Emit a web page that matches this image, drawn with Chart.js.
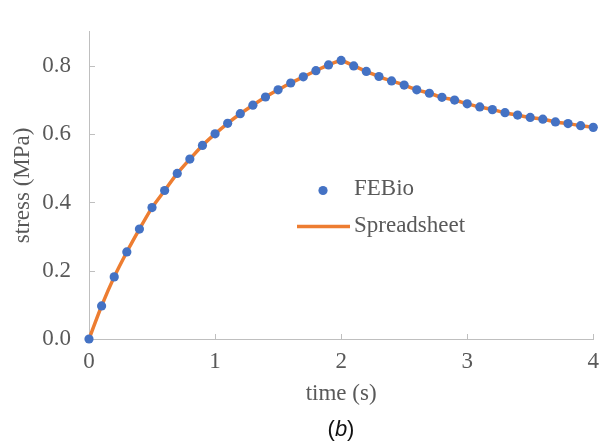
<!DOCTYPE html>
<html>
<head>
<meta charset="utf-8">
<script src="https://cdn.jsdelivr.net/npm/chart.js@4/dist/chart.umd.min.js"></script>
<style>
  html, body { margin: 0; padding: 0; background: #fff; }
  #wrap { width: 608px; height: 446px; position: relative; }
</style>
</head>
<body>
<div id="wrap"><canvas id="stressChart"></canvas></div>
<script>
// time points (s)
const timeS = [0, 0.1, 0.2, 0.3, 0.4, 0.5, 0.6, 0.7, 0.8, 0.9,
               1, 1.1, 1.2, 1.3, 1.4, 1.5, 1.6, 1.7, 1.8, 1.9,
               2, 2.1, 2.2, 2.3, 2.4, 2.5, 2.6, 2.7, 2.8, 2.9,
               3, 3.1, 3.2, 3.3, 3.4, 3.5, 3.6, 3.7, 3.8, 3.9, 4];

// stress (MPa) from FEBio
const febioStress = [0, 0.097, 0.182, 0.255, 0.322, 0.385, 0.435, 0.485, 0.527, 0.567,
                     0.601, 0.632, 0.660, 0.685, 0.709, 0.730, 0.750, 0.768, 0.786, 0.803,
                     0.816, 0.800, 0.784, 0.769, 0.756, 0.744, 0.730, 0.720, 0.708, 0.700,
                     0.689, 0.680, 0.672, 0.663, 0.656, 0.649, 0.644, 0.636, 0.631, 0.625, 0.620];

// stress (MPa) from spreadsheet
const sheetStress = [0, 0.097, 0.182, 0.255, 0.322, 0.385, 0.435, 0.485, 0.527, 0.567,
                     0.601, 0.632, 0.660, 0.685, 0.709, 0.730, 0.750, 0.768, 0.786, 0.803,
                     0.816, 0.800, 0.784, 0.769, 0.756, 0.744, 0.730, 0.720, 0.708, 0.700,
                     0.689, 0.680, 0.672, 0.663, 0.656, 0.649, 0.644, 0.636, 0.631, 0.625, 0.620];

const xTicks = [0, 1, 2, 3, 4];
const yTicks = [0, 0.2, 0.4, 0.6, 0.8];

const BLUE = '#4472C4';
const ORANGE = '#ED7D31';
const AXIS = '#BFBFBF';
const TEXT = '#595959';
const SERIF = "'Liberation Serif', 'Times New Roman', serif";
const FS = 23;
const DOT = 4.6;

function toXY(xs, ys) {
    return xs.map((x, i) => ({ x: x, y: ys[i] }));
}

// inward tick marks like the Excel original
const innerTicks = {
    id: 'innerTicks',
    beforeDatasetsDraw(chart) {
        const ctx = chart.ctx;
        const xs = chart.scales.x, ys = chart.scales.y;
        const area = chart.chartArea;
        ctx.save();
        ctx.strokeStyle = AXIS;
        ctx.lineWidth = 1;
        ctx.beginPath();
        yTicks.forEach(v => {
            const py = Math.round(ys.getPixelForValue(v)) + 0.5;
            ctx.moveTo(area.left, py);
            ctx.lineTo(area.left + 6, py);
        });
        xTicks.forEach(v => {
            const px = Math.round(xs.getPixelForValue(v)) + 0.5;
            ctx.moveTo(px, area.bottom);
            ctx.lineTo(px, area.bottom - 5);
        });
        ctx.stroke();
        ctx.restore();
    }
};

// legend inside the plot, plus the "(b)" caption
const insideLegend = {
    id: 'insideLegend',
    afterDraw(chart) {
        const ctx = chart.ctx;
        const ds = chart.data.datasets;
        ctx.save();
        ctx.font = FS + 'px ' + SERIF;
        ctx.fillStyle = TEXT;
        ctx.textBaseline = 'middle';
        ctx.textAlign = 'left';

        // FEBio marker
        ctx.beginPath();
        ctx.arc(323, 190.5, DOT, 0, Math.PI * 2);
        ctx.fillStyle = BLUE;
        ctx.fill();
        ctx.fillStyle = TEXT;
        ctx.fillText(ds[0].label, 354, 189);

        // Spreadsheet line
        ctx.strokeStyle = ORANGE;
        ctx.lineWidth = 3.5;
        ctx.beginPath();
        ctx.moveTo(297, 226.5);
        ctx.lineTo(350, 226.5);
        ctx.stroke();
        ctx.fillText(ds[1].label, 354, 226);

        // caption (b)
        const up = "22px 'Liberation Sans', Arial, sans-serif";
        const it = "italic 22px 'Liberation Sans', Arial, sans-serif";
        ctx.fillStyle = '#111';
        ctx.font = up;
        const wa = ctx.measureText('(').width;
        const wc = ctx.measureText(')').width;
        ctx.font = it;
        const wb = ctx.measureText('b').width;
        const x0 = 341 - (wa + wb + wc) / 2;
        ctx.font = up;
        ctx.fillText('(', x0, 430);
        ctx.font = it;
        ctx.fillText('b', x0 + wa, 430);
        ctx.font = up;
        ctx.fillText(')', x0 + wa + wb, 430);
        ctx.restore();
    }
};

const ctx = document.getElementById('stressChart').getContext('2d');
new Chart(ctx, {
    type: 'scatter',
    data: {
        datasets: [
            {
                label: 'FEBio',
                data: toXY(timeS, febioStress),
                showLine: false,
                backgroundColor: BLUE,
                borderColor: BLUE,
                pointRadius: DOT,
                pointBorderWidth: 0,
                clip: false,
                order: 0
            },
            {
                label: 'Spreadsheet',
                data: toXY(timeS, sheetStress),
                showLine: true,
                borderColor: ORANGE,
                borderWidth: 3.5,
                pointRadius: 0,
                tension: 0.2,
                fill: false,
                clip: false,
                order: 1
            }
        ]
    },
    options: {
        responsive: true,
        maintainAspectRatio: false,
        animation: false,
        layout: { padding: { top: 8, right: 14, left: 0, bottom: 0 } },
        plugins: {
            legend: { display: false },
            tooltip: { enabled: false }
        },
        scales: {
            x: {
                type: 'linear',
                min: 0,
                max: 4,
                afterFit: s => { s.height = 107; },
                grid: { display: false, drawTicks: false },
                border: { color: AXIS, width: 1 },
                ticks: {
                    stepSize: 1,
                    padding: 9,
                    color: TEXT,
                    font: { family: SERIF, size: FS }
                },
                title: {
                    display: true,
                    text: 'time (s)',
                    color: TEXT,
                    font: { family: SERIF, size: FS },
                    padding: { top: 0, bottom: 38 }
                }
            },
            y: {
                type: 'linear',
                min: 0,
                max: 0.9,
                afterFit: s => { s.width = 89; },
                grid: { display: false, drawTicks: false },
                border: { color: AXIS, width: 1 },
                ticks: {
                    stepSize: 0.2,
                    includeBounds: false,
                    padding: 18,
                    color: TEXT,
                    font: { family: SERIF, size: FS },
                    callback: v => v.toFixed(1)
                },
                title: {
                    display: true,
                    text: 'stress (MPa)',
                    color: TEXT,
                    font: { family: SERIF, size: FS },
                    padding: { top: 9, bottom: 0 }
                }
            }
        }
    },
    plugins: [innerTicks, insideLegend]
});
</script>
</body>
</html>
